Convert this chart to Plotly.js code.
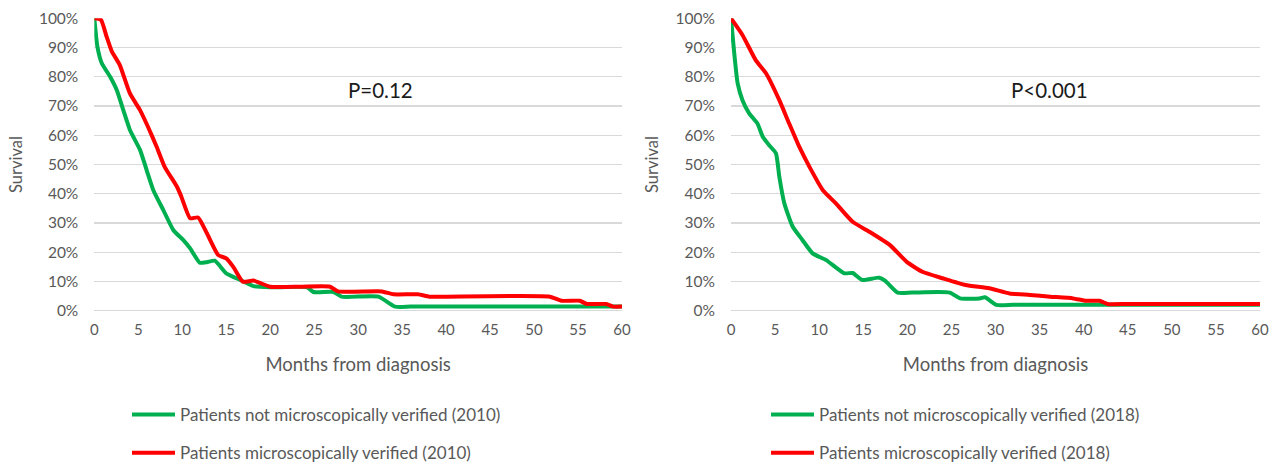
<!DOCTYPE html>
<html>
<head>
<meta charset="utf-8">
<script src="https://cdn.plot.ly/plotly-3.0.1.min.js"></script>
<style>html,body{margin:0;padding:0;background:#fff;}#chart{width:1277px;height:464px;}</style>
</head>
<body>
<div id="chart"></div>
<script>
// Survival (%) by months from diagnosis
const months2010Not = [0, 0.35, 0.85, 1.8, 2.55, 3.3, 4.05, 5.2, 5.95, 6.7, 7.85, 9.0, 10.1, 10.9, 12.0, 12.8, 13.7, 15.0, 16.6, 18.1, 20, 24.2, 24.9, 27.2, 28.1, 32.3, 34.2, 36, 45, 60];
const surv2010Not   = [100, 90.3, 84.6, 80, 75.5, 68.6, 61.8, 55, 48.1, 41.3, 34.4, 27.5, 24.2, 21.3, 16.4, 16.6, 17.1, 12.8, 10.5, 8.4, 8.0, 8.0, 6.4, 6.4, 4.8, 4.8, 1.4, 1.4, 1.4, 1.4];

const months2010Ver = [0, 0.75, 1.4, 2.0, 2.9, 4.05, 5.2, 6.1, 7.1, 8.0, 9.4, 9.9, 10.9, 11.8, 12.8, 14.1, 15.0, 15.8, 16.9, 18.1, 20, 23.5, 26.8, 27.7, 32.7, 34.0, 36.8, 38.1, 40, 51.8, 53.1, 55.2, 56.0, 58.2, 59.0, 60];
const surv2010Ver   = [100, 99.5, 93.7, 88.6, 84, 74.3, 68.6, 62.9, 56, 49.2, 42.4, 39, 31.6, 31.9, 26.5, 19, 17.9, 15, 9.9, 10.3, 8.2, 8.2, 8.2, 6.6, 6.6, 5.6, 5.6, 4.8, 4.8, 4.8, 3.4, 3.4, 2.3, 2.3, 1.4, 1.4];

const months2018Not = [0, 0.37, 0.75, 1.3, 2.06, 3.0, 3.6, 4.3, 5.1, 5.48, 6.05, 7.0, 8.1, 9.26, 10.8, 12.85, 13.8, 14.9, 16.8, 17.5, 18.9, 20.5, 24.8, 26.0, 28.2, 28.8, 30.1, 32, 40, 60];
const surv2018Not   = [100, 88, 77.8, 72, 67.5, 64, 59.5, 56.7, 53.8, 45.8, 36.7, 28.7, 24.2, 19.6, 17.3, 12.8, 12.9, 10.5, 11.3, 10.2, 6.2, 6.2, 6.2, 4.2, 4.2, 4.6, 2.0, 2.0, 2.0, 2.0];

const months2018Ver = [0, 1.3, 2.8, 3.97, 5.48, 6.6, 7.75, 8.9, 10.4, 11.9, 13.8, 15.7, 18.0, 19.9, 21.7, 24.0, 26.6, 29.3, 31.6, 33.9, 36.2, 38.8, 40.3, 41.8, 42.7, 45, 60];
const surv2018Ver   = [100, 94.3, 85.7, 81.2, 72, 64, 56, 49.2, 41.3, 36.7, 30.4, 27, 22.5, 16.8, 13.3, 11.1, 8.8, 7.7, 5.9, 5.4, 4.8, 4.2, 3.4, 3.4, 2.3, 2.3, 2.3];

const seriesNames = [
  "Patients not microscopically verified (2010)",
  "Patients microscopically verified (2010)",
  "Patients not microscopically verified (2018)",
  "Patients microscopically verified (2018)"
];
const pValues = ["P=0.12", "P<0.001"];
const xTitle = "Months from diagnosis";
const yTitle = "Survival";

const GREEN = "#00B050", RED = "#FF0000", GREY = "#595959", FONT = "Lato, 'Open Sans', sans-serif";

function trace(x, y, name, color, xa, ya, legend, group) {
  return {
    x: x, y: y, name: name, type: "scatter", mode: "lines",
    line: {color: color, width: 4, shape: "spline", smoothing: 0.5},
    xaxis: xa, yaxis: ya, legend: legend, legendgroup: group,
    hoverinfo: "x+y+name"
  };
}

const data = [
  trace(months2010Not, surv2010Not, seriesNames[0], GREEN, "x", "y", "legend", "a"),
  trace(months2010Ver, surv2010Ver, seriesNames[1], RED, "x", "y", "legend", "b"),
  trace(months2018Not, surv2018Not, seriesNames[2], GREEN, "x2", "y2", "legend2", "c"),
  trace(months2018Ver, surv2018Ver, seriesNames[3], RED, "x2", "y2", "legend2", "d")
];

function xAxis(domain, anchor) {
  return {
    domain: domain, anchor: anchor, range: [0, 60], dtick: 5, tick0: 0,
    showgrid: false, zeroline: false, showline: false, ticks: "",
    ticklabelstandoff: 8,
    tickfont: {family: FONT, size: 15, color: GREY},
    title: {text: xTitle, font: {family: FONT, size: 18.5, color: GREY}, standoff: 21},
    fixedrange: true
  };
}
function yAxis(domain, anchor) {
  return {
    domain: domain, anchor: anchor, range: [0, 100], dtick: 10, tick0: 0,
    ticksuffix: "%", showgrid: true, gridcolor: "#D9D9D9", gridwidth: 1.3,
    zeroline: true, zerolinecolor: "#D9D9D9", zerolinewidth: 1.3, showline: false, ticks: "",
    ticklabelstandoff: 15,
    tickfont: {family: FONT, size: 15.5, color: GREY},
    title: {text: yTitle, font: {family: FONT, size: 16.5, color: GREY}, standoff: 12},
    fixedrange: true
  };
}

const W = 1277, H = 464;
const yDom = [(H - 310.7) / H, (H - 18.3) / H];

const legendBase = {
  orientation: "v", xanchor: "left", yanchor: "top",
  font: {family: FONT, size: 17, color: GREY},
  bgcolor: "rgba(0,0,0,0)", borderwidth: 0, tracegroupgap: 13, itemwidth: 43,
  traceorder: "grouped"
};

const layout = {
  width: W, height: H,
  margin: {l: 0, r: 0, t: 0, b: 0, autoexpand: false},
  paper_bgcolor: "#fff", plot_bgcolor: "#fff",
  showlegend: true,
  xaxis: xAxis([94.3 / W, 622 / W], "y"),
  yaxis: yAxis(yDom, "x"),
  xaxis2: xAxis([731 / W, 1260 / W], "y2"),
  yaxis2: yAxis(yDom, "x2"),
  legend: Object.assign({}, legendBase, {x: 127 / W, y: (H - 397) / H}),
  legend2: Object.assign({}, legendBase, {x: 766 / W, y: (H - 397) / H}),
  annotations: [
    {text: pValues[0], x: 32.5, y: 75.4, xref: "x", yref: "y", showarrow: false,
     font: {family: FONT, size: 20.5, color: "#1a1a1a"}},
    {text: pValues[1], x: 36.1, y: 75.4, xref: "x2", yref: "y2", showarrow: false,
     font: {family: FONT, size: 20.5, color: "#1a1a1a"}}
  ]
};

Plotly.newPlot("chart", data, layout, {displayModeBar: false, staticPlot: true});
</script>
</body>
</html>
